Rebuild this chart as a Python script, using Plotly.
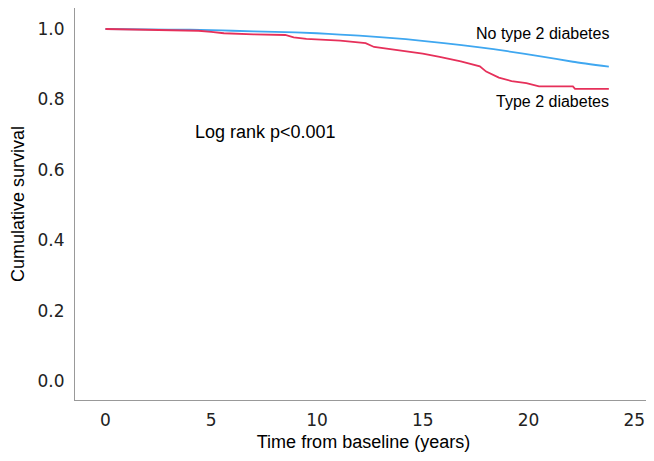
import plotly.graph_objects as go

# ---- data ----
no_t2d_time = [0, 2, 4, 5, 6, 8, 10, 11.1, 12, 14.2, 16, 17.7, 19, 20.5, 22.1, 23.8]
no_t2d_surv = [1.0, 0.999, 0.998, 0.997, 0.995, 0.992, 0.988, 0.984, 0.981, 0.971,
               0.960, 0.948, 0.937, 0.923, 0.907, 0.893]

t2d_time = [0, 1.5, 3, 4.4, 5.0, 5.6, 7, 8.5, 8.9, 9.5, 11.1, 12.3, 12.7, 14.2, 15.0, 15.8,
            16.8, 17.7, 18.0, 18.6, 19.2, 19.9, 20.5, 22.1, 22.2, 23.8]
t2d_surv = [1.0, 0.999, 0.997, 0.995, 0.992, 0.988, 0.985, 0.983, 0.976, 0.972, 0.967, 0.960,
            0.949, 0.938, 0.930, 0.921, 0.908, 0.894, 0.879, 0.862, 0.852, 0.846, 0.837,
            0.837, 0.830, 0.830]

x_ticks = [0, 5, 10, 15, 20, 25]
y_ticks = [0.0, 0.2, 0.4, 0.6, 0.8, 1.0]
y_tick_text = ["0.0", "0.2", "0.4", "0.6", "0.8", "1.0"]

label_no_t2d = "No type 2 diabetes"
label_t2d = "Type 2 diabetes"
logrank_text = "Log rank p<0.001"

fig = go.Figure()
fig.add_trace(go.Scatter(x=no_t2d_time, y=no_t2d_surv, mode="lines",
                         line=dict(color="#3FA7F0", width=1.8, shape="spline", smoothing=0.6),
                         name=label_no_t2d, showlegend=False))
fig.add_trace(go.Scatter(x=t2d_time, y=t2d_surv, mode="lines",
                         line=dict(color="#E6305A", width=1.8), name=label_t2d,
                         showlegend=False))

fig.add_annotation(x=23.9, y=0.986, text=label_no_t2d, showarrow=False,
                   xanchor="right", yanchor="middle",
                   font=dict(family="Liberation Sans, Arial", size=16, color="#000"))
fig.add_annotation(x=23.9, y=0.795, text=label_t2d, showarrow=False,
                   xanchor="right", yanchor="middle",
                   font=dict(family="Liberation Sans, Arial", size=16, color="#000"))
fig.add_annotation(x=4.14, y=0.707, text=logrank_text, showarrow=False,
                   xanchor="left", yanchor="middle",
                   font=dict(family="Liberation Sans, Arial", size=18, color="#000"))

# page body has an 8px margin, so the figure is sized to the visible area
fig.update_layout(
    width=646, height=453,
    margin=dict(l=67, r=2, t=0, b=61, autoexpand=False),
    paper_bgcolor="white", plot_bgcolor="white",
    showlegend=False,
    xaxis=dict(range=[-1.44, 25.84], tickvals=x_ticks, showgrid=False, zeroline=False,
               automargin=False,
               showline=True, linecolor="#999999", linewidth=1, ticks="",
               ticklabelstandoff=5,
               tickfont=dict(family="DejaVu Sans", size=17, color="#222"),
               title=dict(text="Time from baseline (years)", standoff=5,
                          font=dict(family="Liberation Sans, Arial", size=18, color="#000"))),
    yaxis=dict(range=[-0.054, 1.0597], tickvals=y_ticks, ticktext=y_tick_text,
               showgrid=False, zeroline=False, automargin=False,
               showline=True, linecolor="#999999", linewidth=1, ticks="",
               ticklabelstandoff=6,
               tickfont=dict(family="DejaVu Sans", size=17, color="#222"),
               title=dict(text="Cumulative survival", standoff=9,
                          font=dict(family="Liberation Sans, Arial", size=18, color="#000"))),
)

fig.write_html("out.html")
